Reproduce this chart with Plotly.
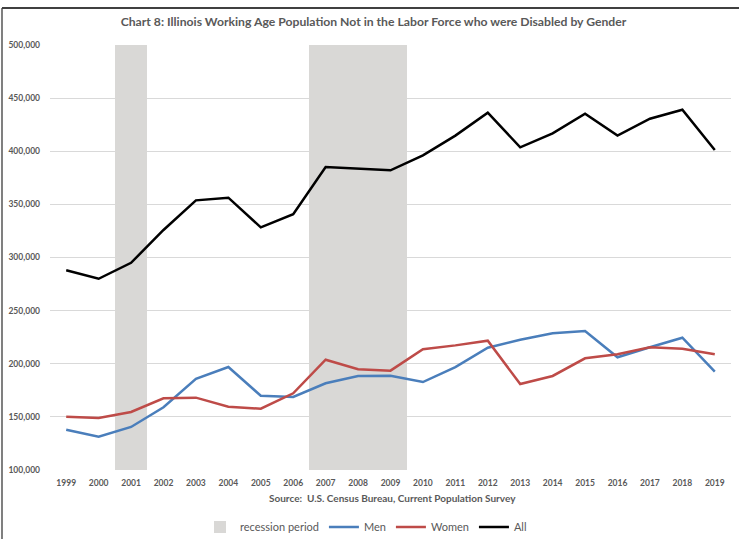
import plotly.graph_objects as go

years = [str(y) for y in range(1999, 2020)]
men = [137900, 131300, 140500, 159000, 185900, 196900, 169900, 168700, 181600, 188500, 188800,
       182800, 196900, 215100, 222600, 228700, 230800, 206100, 215500, 224500, 192500]
women = [150200, 148900, 154600, 167500, 168100, 159600, 157700, 172200, 203800, 194800, 193500,
         213600, 217300, 221700, 180900, 188500, 205100, 208900, 215500, 214200, 208900]
all_ = [288000, 280000, 295000, 325900, 353800, 356300, 328400, 340700, 385200, 383300, 382100,
        396200, 414700, 436300, 403700, 416900, 435300, 414700, 430600, 439100, 401200]
recession_years = ["2001", "2007", "2008", "2009"]
recession_top = [500000, 500000, 500000, 500000]
y_min, y_max = 100000, 500000
tick_vals = [100000, 150000, 200000, 250000, 300000, 350000, 400000, 450000, 500000]
tick_labels = ["100,000", "150,000", "200,000", "250,000", "300,000", "350,000",
               "400,000", "450,000", "500,000"]

FONT = "Lato, Liberation Sans, sans-serif"
GRAY = "#595959"

fig = go.Figure()
fig.add_trace(go.Bar(
    x=recession_years, y=[t - y_min for t in recession_top], base=y_min,
    name="recession period", marker=dict(color="#D9D8D6", line=dict(width=0)),
    width=1, hoverinfo="skip"))
fig.add_trace(go.Scatter(x=years, y=men, name="Men", mode="lines",
                         line=dict(color="#4A7EBB", width=2.5)))
fig.add_trace(go.Scatter(x=years, y=women, name="Women", mode="lines",
                         line=dict(color="#BE4B48", width=2.5)))
fig.add_trace(go.Scatter(x=years, y=all_, name="All", mode="lines",
                         line=dict(color="#000000", width=2.5)))

fig.update_layout(
    width=739, height=539,
    margin=dict(l=50, r=8, t=45, b=69, autoexpand=False),
    paper_bgcolor="white", plot_bgcolor="white",
    bargap=0,
    font=dict(family=FONT, color=GRAY),
    title=dict(text="<b>Chart 8: Illinois Working Age Population Not in the Labor Force who were Disabled by Gender</b>",
               x=373.5 / 739, xref="container", xanchor="center", y=1 - 22 / 539, yanchor="middle",
               font=dict(size=12.2, color=GRAY, family=FONT)),
    showlegend=True,
    legend=dict(orientation="h", x=(366 - 50) / 681, xanchor="center", y=-0.134, yanchor="middle",
                font=dict(size=11, color=GRAY, family=FONT), traceorder="normal",
                itemwidth=30, tracegroupgap=0),
    xaxis=dict(type="category", categoryorder="array", categoryarray=years,
               range=[-0.5, 20.5], showgrid=False, ticks="", showline=False,
               tickfont=dict(size=8.5, color=GRAY, family=FONT), tickprefix="<b>", ticksuffix="</b>",
               ticklabelstandoff=6, fixedrange=True, automargin=False),
    yaxis=dict(range=[y_min, y_max], tickvals=tick_vals,
               ticktext=["<b>" + t + "</b>" for t in tick_labels],
               showgrid=True, gridcolor="#D9D9D9", gridwidth=1, zeroline=False,
               ticks="", showline=False,
               tickfont=dict(size=8.5, color=GRAY, family=FONT), ticklabelstandoff=9,
               automargin=False),
    annotations=[dict(text="<b>Source:  U.S. Census Bureau, Current Population Survey</b>",
                      x=(392 - 50) / 681, xref="paper", y=-0.066, yref="paper", showarrow=False,
                      xanchor="center", yanchor="middle",
                      font=dict(size=10, color=GRAY, family=FONT))],
    shapes=[
        dict(type="line", xref="paper", yref="paper", x0=-0.0705, x1=-0.0705, y0=1.087, y1=-0.2,
             line=dict(color="#7F7F7F", width=2)),
        dict(type="line", xref="paper", yref="paper", x0=-0.0705, x1=1.03, y0=1.087, y1=1.087,
             line=dict(color="#404040", width=2)),
    ],
)

fig.write_html("out.html", config={"displayModeBar": False},
               post_script="document.body.style.margin='0';")
